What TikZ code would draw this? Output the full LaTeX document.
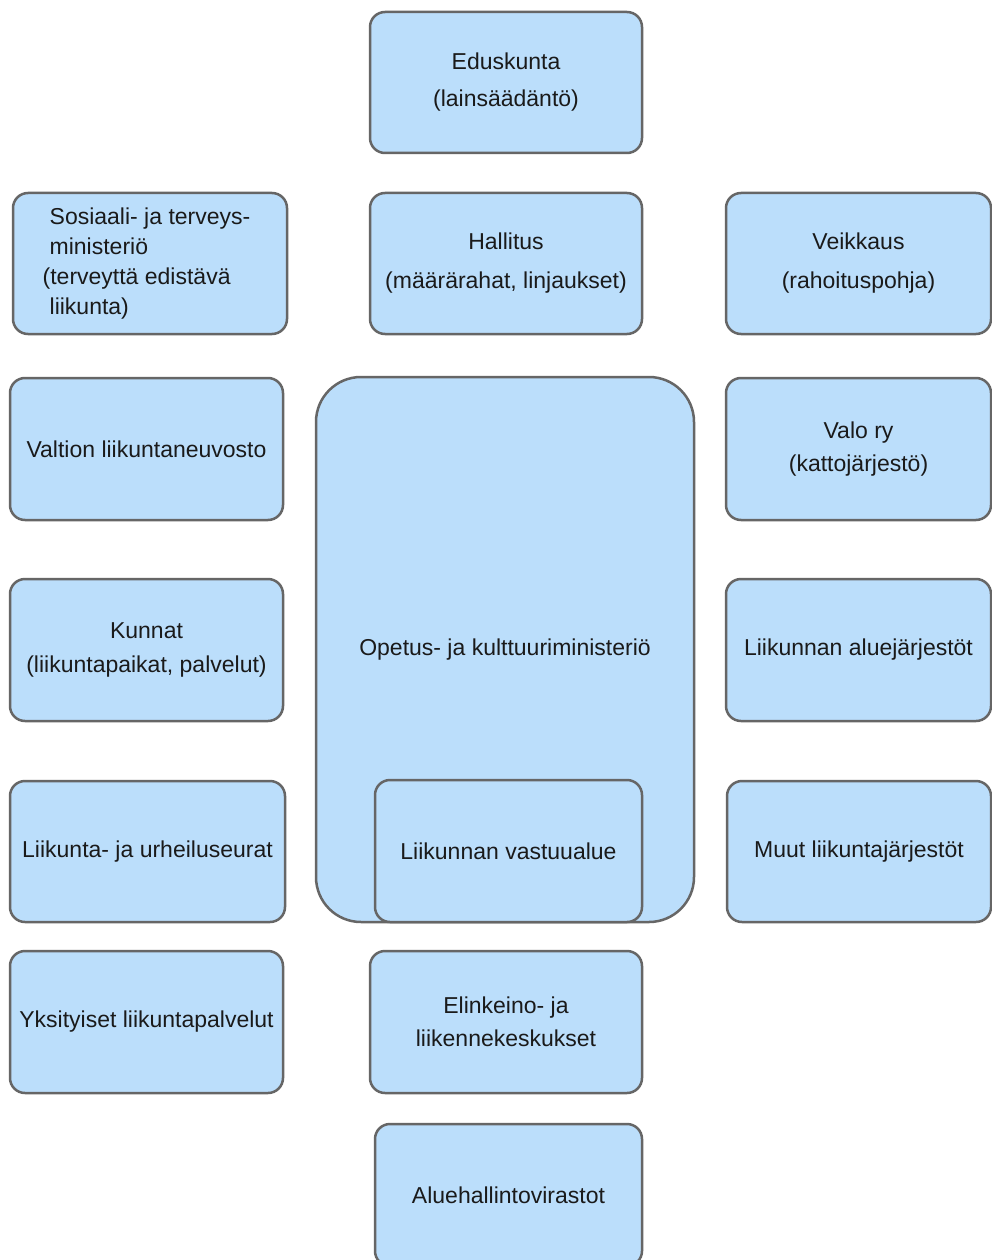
\documentclass[tikz,border=0pt]{standalone}
\usepackage{fontspec}
\setmainfont{Liberation Sans}
\usepackage{tikz}
\definecolor{boxfill}{HTML}{BBDEFB}
\definecolor{boxline}{HTML}{666666}
\definecolor{boxtext}{HTML}{1A1A1A}
\begin{document}
\begin{tikzpicture}[x=1pt, y=-1pt,
        box/.style={draw=boxline, fill=boxfill, line width=2.5pt, rounded corners=15pt,
            inner sep=0pt, align=center, text=boxtext,
            font=\fontsize{23}{30}\selectfont},
        bigbox/.style={box, rounded corners=45pt}]
    \useasboundingbox[fill=white] (0,0) rectangle (992,1260);

    % top and second row
    \node[box, minimum width=272pt, minimum height=141pt] (edus) at (506,82.5) {Eduskunta\\[7pt](lainsäädäntö)};
    \node[box, minimum width=274pt, minimum height=141pt, align=left] (stm) at (150,263.5)
        {Sosiaali- ja terveys-\\ministeriö\\\hspace*{-7pt}(terveyttä edistävä\\liikunta)};
    \node[box, minimum width=272pt, minimum height=141pt] (hallitus) at (506,263.5) {Hallitus\\[9pt](määrärahat, linjaukset)};
    \node[box, minimum width=265pt, minimum height=141pt] (veikkaus) at (858.5,263.5) {Veikkaus\\[9pt](rahoituspohja)};

    % ministry with its sports unit
    \node[bigbox, minimum width=378pt, minimum height=545pt] (okm) at (505,649.5) {Opetus- ja kulttuuriministeriö};
    \node[box, minimum width=267pt, minimum height=142pt] (vastuu) at (508.5,851) {Liikunnan vastuualue};

    % left column
    \node[box, minimum width=273pt, minimum height=142pt] (valtion) at (146.5,449) {Valtion liikuntaneuvosto};
    \node[box, minimum width=273pt, minimum height=142pt] (kunnat) at (146.5,650) {Kunnat\\[4pt](liikuntapaikat, palvelut)};
    \node[box, minimum width=275pt, minimum height=141pt] (seurat) at (147.5,851.5) {Liikunta- ja urheiluseurat};
    \node[box, minimum width=273pt, minimum height=142pt] (yksit) at (146.5,1022) {Yksityiset liikuntapalvelut};

    % right column
    \node[box, minimum width=265pt, minimum height=142pt] (valo) at (858.5,449) {Valo ry\\[3pt](kattojärjestö)};
    \node[box, minimum width=265pt, minimum height=142pt] (aluej) at (858.5,650) {Liikunnan aluejärjestöt};
    \node[box, minimum width=264pt, minimum height=141pt] (muut) at (859,851.5) {Muut liikuntajärjestöt};

    % bottom
    \node[box, minimum width=272pt, minimum height=142pt] (elink) at (506,1022) {Elinkeino- ja\\[3pt]liikennekeskukset};
    \node[box, minimum width=267pt, minimum height=142pt] (avi) at (508.5,1195) {Aluehallintovirastot};
\end{tikzpicture}
\end{document}
